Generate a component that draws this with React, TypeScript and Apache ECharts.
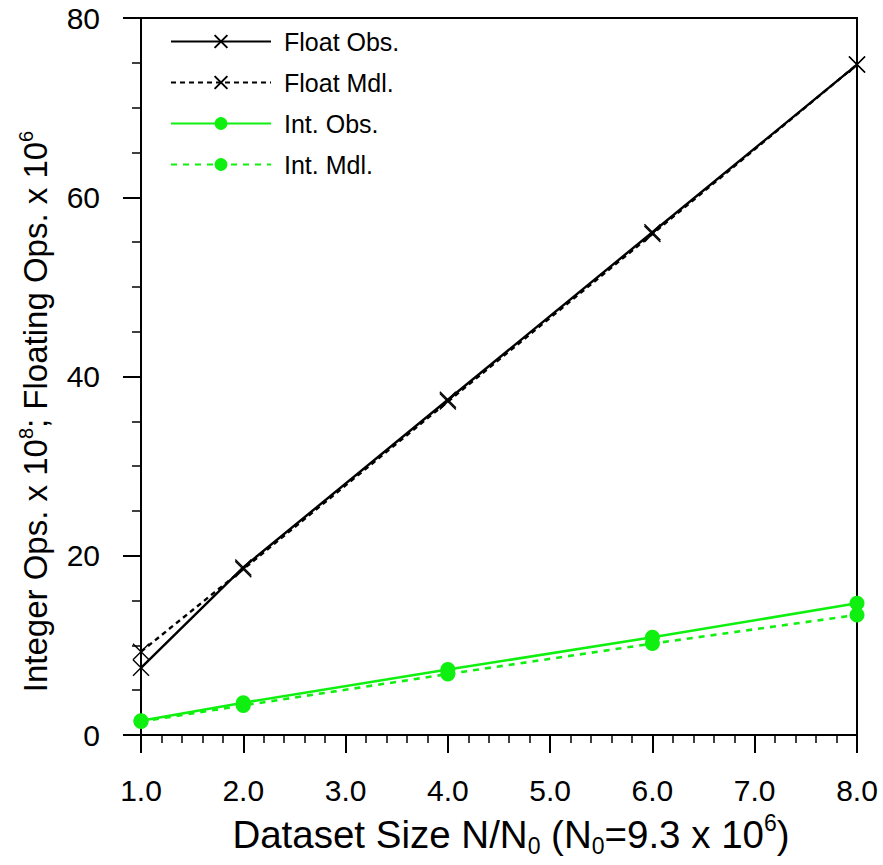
import React, { useEffect, useRef } from "react";
import * as echarts from "echarts";

const xValues = [1, 2, 4, 6, 8];
const floatObs = [7.5, 18.7, 37.4, 56.1, 74.8];
const floatMdl = [9.3, 18.5, 37.2, 55.9, 74.8];
const intObs = [1.6, 3.6, 7.3, 10.9, 14.7];
const intMdl = [1.5, 3.3, 6.8, 10.2, 13.4];
const seriesNames = ["Float Obs.", "Float Mdl.", "Int. Obs.", "Int. Mdl."];

const FONT = "'Liberation Sans', Arial, Helvetica, sans-serif";
const GREEN = "#10f010";
const CROSS = "path://M0,0L10,10M10,0L0,10";

export default function App() {
  const ref = useRef<HTMLDivElement>(null);
  useEffect(() => {
    if (!ref.current) return;
    const chart = echarts.init(ref.current, undefined, { renderer: "svg" });
    const pair = (ys: number[]) => xValues.map((x, i) => [x, ys[i]]);
    const crossSeries = (name: string, ys: number[], dashed: boolean) => ({
      name,
      type: "line",
      data: pair(ys),
      symbol: CROSS,
      symbolSize: 16,
      itemStyle: { color: "transparent", borderColor: "#000", borderWidth: 1.4 },
      lineStyle: { color: "#000", width: 2.4, type: dashed ? [5, 4] : "solid" },
      z: 3,
    });
    const dotSeries = (name: string, ys: number[], dashed: boolean) => ({
      name,
      type: "line",
      data: pair(ys),
      symbol: "circle",
      symbolSize: 15,
      itemStyle: { color: GREEN, borderWidth: 0 },
      lineStyle: { color: GREEN, width: 2.6, type: dashed ? [6, 6] : "solid" },
      z: 3,
    });
    chart.setOption({
      animation: false,
      backgroundColor: "#fff",
      textStyle: { fontFamily: FONT },
      grid: {
        left: 141,
        right: 26,
        top: 18,
        bottom: 130,
        containLabel: false,
        outerBoundsMode: "none",
        show: true,
        borderColor: "#000",
        borderWidth: 2,
        backgroundColor: "transparent",
      },
      legend: {
        left: 165,
        top: 24,
        orient: "vertical",
        itemWidth: 100,
        itemHeight: 16,
        itemGap: 16,
        textStyle: { fontSize: 25, color: "#000", fontFamily: FONT, padding: [0, 0, 0, 8] },
        data: seriesNames,
      },
      xAxis: {
        type: "value",
        min: 1,
        max: 8,
        interval: 1,
        name: "Dataset Size N/N{sub|0} (N{sub|0}=9.3 x 10{sup|6})",
        nameLocation: "middle",
        nameGap: 76,
        nameTextStyle: {
          fontSize: 38.5,
          color: "#000",
          fontFamily: FONT,
          lineHeight: 46,
          padding: [0, 0, 0, 24],
          rich: {
            sub: { fontSize: 23, verticalAlign: "bottom", lineHeight: 38, fontFamily: FONT, color: "#000" },
            sup: { fontSize: 23, verticalAlign: "top", lineHeight: 38, fontFamily: FONT, color: "#000" },
          },
        },
        axisLine: { show: true, lineStyle: { color: "#000", width: 2 } },
        axisTick: { show: true, length: 18, lineStyle: { color: "#000", width: 2 } },
        minorTick: { show: true, splitNumber: 5, length: 8, lineStyle: { color: "#000", width: 1.5 } },
        splitLine: { show: false },
        axisLabel: {
          fontSize: 30,
          color: "#000",
          fontFamily: FONT,
          margin: 40,
          formatter: (v: number) => v.toFixed(1),
        },
      },
      yAxis: {
        type: "value",
        min: 0,
        max: 80,
        interval: 20,
        name: "Integer Ops. x 10{sup|8}; Floating Ops. x 10{sup|6}",
        nameLocation: "middle",
        nameGap: 84,
        nameRotate: 90,
        nameTextStyle: {
          fontSize: 33,
          color: "#000",
          fontFamily: FONT,
          lineHeight: 40,
          padding: [0, 70, 0, 0],
          rich: {
            sup: { fontSize: 20, verticalAlign: "top", lineHeight: 34, fontFamily: FONT, color: "#000" },
          },
        },
        axisLine: { show: true, lineStyle: { color: "#000", width: 2 } },
        axisTick: { show: true, length: 18, lineStyle: { color: "#000", width: 2 } },
        minorTick: { show: true, splitNumber: 4, length: 9, lineStyle: { color: "#000", width: 1.5 } },
        splitLine: { show: false },
        axisLabel: { fontSize: 30, color: "#000", fontFamily: FONT, margin: 41 },
      },
      series: [
        crossSeries(seriesNames[0], floatObs, false),
        crossSeries(seriesNames[1], floatMdl, true),
        dotSeries(seriesNames[2], intObs, false),
        dotSeries(seriesNames[3], intMdl, true),
      ],
    });
    return () => chart.dispose();
  }, []);
  return (
    <div
      ref={ref}
      style={{ position: "absolute", left: 0, top: 0, width: 883, height: 865 }}
    />
  );
}
